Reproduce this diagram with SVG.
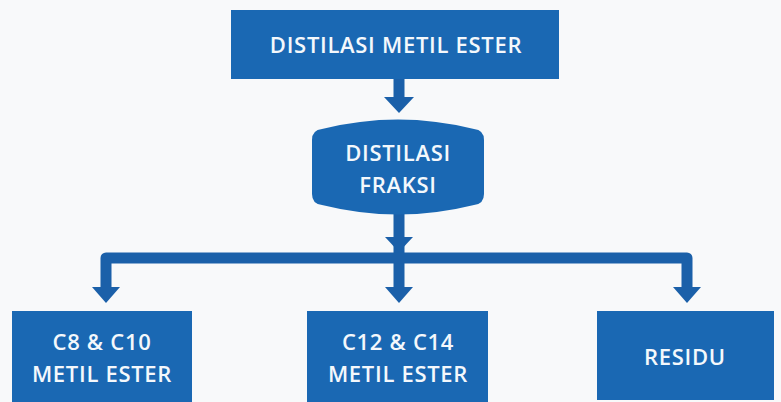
<svg xmlns="http://www.w3.org/2000/svg" width="781" height="402" viewBox="0 0 781 402">
  <defs>
    <style>
      .box { fill: #1a68b3; }
      .lbl { fill: #f4f8fc; font-family: "Open Sans", "Noto Sans", "Liberation Sans", sans-serif; font-weight: 600; font-size: 22px; letter-spacing: 0.7px; text-anchor: middle; }
      .wire { fill: none; stroke: #1b60a9; stroke-width: 11; stroke-linejoin: round; }
      .head { fill: #1b60a9; }
    </style>
  </defs>
  <rect width="781" height="402" fill="#f8f9fa"/>

  <!-- connectors -->
  <g id="connectors">
    <path class="wire" d="M399 78 V98"/>
    <polygon class="head" points="384,97 414,97 399,113"/>
    <path class="wire" d="M399 210 V289"/>
    <polygon class="head" points="385,237 413,237 399,252"/>
    <path class="wire" d="M106 289 V258 H687 V289"/>
    <polygon class="head" points="92,287 120,287 106,303"/>
    <polygon class="head" points="385,287 413,287 399,303"/>
    <polygon class="head" points="673,287 701,287 687,303"/>
  </g>

  <!-- top process -->
  <g id="distilasi-metil-ester">
    <rect class="box" x="231" y="10" width="328" height="69"/>
    <text class="lbl" x="396" y="53">DISTILASI METIL ESTER</text>
  </g>

  <!-- fractional distillation (barrel shape) -->
  <g id="distilasi-fraksi">
    <path class="box" d="M312 140 Q312 130 322 129 Q398 110 474 129 Q484 130 484 140 V194 Q484 204 474 205 Q398 224 322 205 Q312 204 312 194 Z"/>
    <text class="lbl" x="398" y="161">DISTILASI</text>
    <text class="lbl" x="398" y="193">FRAKSI</text>
  </g>

  <!-- products -->
  <g id="c8-c10">
    <rect class="box" x="12" y="311" width="180" height="95"/>
    <text class="lbl" x="102" y="350">C8 &amp; C10</text>
    <text class="lbl" x="102" y="382">METIL ESTER</text>
  </g>
  <g id="c12-c14">
    <rect class="box" x="307" y="311" width="181" height="95"/>
    <text class="lbl" x="398" y="350">C12 &amp; C14</text>
    <text class="lbl" x="398" y="382">METIL ESTER</text>
  </g>
  <g id="residu">
    <rect class="box" x="597" y="311" width="177" height="89"/>
    <text class="lbl" x="685" y="365">RESIDU</text>
  </g>
</svg>
